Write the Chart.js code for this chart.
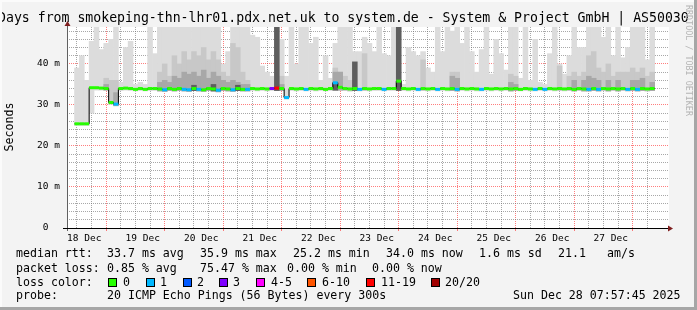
<!DOCTYPE html>
<html lang="en">
<head>
<meta charset="UTF-8">
<title>Smokeping - 10 Days</title>
<script src="https://cdn.jsdelivr.net/npm/chart.js"></script>
<style>
  html, body { margin: 0; padding: 0; background: #f3f3f3; }
  canvas { display: block; }
</style>
</head>
<body>
<canvas id="smoke" width="697" height="310"></canvas>
<script>
// 10 days, starting Dec 18 08:00, in 2 hour buckets (120 of them)
const bucketHours = 2;
const dayLabels = ['18 Dec', '19 Dec', '20 Dec', '21 Dec', '22 Dec', '23 Dec', '24 Dec', '25 Dec', '26 Dec', '27 Dec'];

// median rtt in ms per bucket
const median = [
  25.4, 25.4, 25.4, 34.2, 34.2, 34.1, 34.0, 30.6, 30.2, 34.0,
  34.1, 34.0, 33.8, 34.0, 33.8, 34.0, 34.0, 33.9, 33.7, 34.0,
  33.8, 34.0, 33.8, 33.7, 34.0, 33.8, 33.7, 34.0, 33.9, 33.6,
  34.0, 33.9, 33.7, 34.0, 33.8, 33.8, 34.0, 33.9, 34.0, 33.9,
  34.0, 34.1, 34.0, 31.8, 34.0, 33.9, 34.0, 33.8, 34.0, 33.9,
  34.0, 33.8, 34.0, 35.4, 34.3, 34.0, 33.9, 34.0, 33.8, 34.0,
  33.9, 34.0, 34.0, 33.8, 34.0, 34.0, 35.8, 34.0, 33.9, 34.0,
  33.8, 34.0, 33.9, 34.0, 33.8, 34.0, 33.9, 34.0, 33.8, 34.0,
  33.9, 34.0, 33.9, 33.8, 34.0, 33.9, 34.0, 33.9, 34.0, 33.9,
  34.0, 33.8, 34.0, 33.9, 33.8, 34.0, 33.8, 34.0, 33.9, 34.0,
  33.9, 34.0, 33.8, 34.0, 33.9, 33.8, 34.0, 33.8, 34.0, 33.9,
  34.0, 33.9, 34.0, 33.8, 34.0, 33.8, 34.0, 33.9, 34.0, null
];

// loss class per bucket (index into lossColors)
const lossClass = [
  0, 0, 0, 0, 0, 0, 0, 0, 1, 0,
  0, 0, 0, 0, 0, 0, 0, 0, 1, 0,
  0, 0, 1, 1, 0, 1, 0, 0, 0, 1,
  0, 0, 1, 0, 0, 1, 0, 0, 0, 0,
  3, 6, 0, 1, 0, 0, 0, 1, 0, 0,
  0, 0, 0, 1, 0, 0, 0, 0, 1, 0,
  0, 0, 0, 1, 0, 0, 0, 0, 0, 0,
  1, 0, 0, 0, 1, 0, 0, 0, 1, 0,
  0, 0, 0, 1, 0, 0, 0, 0, 0, 0,
  0, 0, 0, 0, 1, 0, 1, 0, 0, 0,
  0, 0, 0, 0, 0, 1, 0, 1, 0, 0,
  0, 0, 0, 1, 0, 1, 0, 0, 0, 0
];

// smoke: bottom of the ping spread and the tops of the shaded layers
const smokeLo = [
  25.0, 25.0, 25.0, 28.0, 33.6, 33.6, 33.6, 30.2, 29.8, 33.5,
  33.6, 33.5, 33.4, 33.5, 33.4, 33.5, 33.5, 33.4, 33.3, 33.5,
  33.4, 33.5, 33.4, 33.3, 33.5, 33.4, 33.3, 33.5, 33.4, 33.2,
  33.5, 33.4, 33.3, 33.5, 33.4, 33.4, 33.5, 33.4, 33.5, 33.4,
  33.5, 33.5, 33.5, 31.4, 33.5, 33.4, 33.5, 33.4, 33.5, 33.4,
  33.5, 33.4, 33.5, 33.6, 33.6, 33.5, 33.4, 33.5, 33.4, 33.5,
  33.4, 33.5, 33.5, 33.4, 33.5, 33.5, 33.5, 33.5, 33.4, 33.5,
  33.4, 33.5, 33.4, 33.5, 33.4, 33.5, 33.4, 33.5, 33.4, 33.5,
  33.4, 33.5, 33.4, 33.4, 33.5, 33.4, 33.5, 33.4, 33.5, 33.4,
  33.5, 33.4, 33.5, 33.4, 33.4, 33.5, 33.4, 33.5, 33.4, 33.5,
  33.4, 33.5, 33.4, 33.5, 33.4, 33.4, 33.5, 33.4, 33.5, 33.4,
  33.5, 33.4, 33.5, 33.4, 33.5, 33.4, 33.5, 33.4, 33.5, null
];
const smokeHi = [
  39, 42, 36, 45.5, 49, 43.5, 45, 46, 49, 35.5,
  44, 45.5, 35, 35.5, 35, 49, 42.5, 49, 49, 49,
  49, 49, 49, 49, 49, 49, 49, 49, 49, 49,
  40, 43, 49, 49, 49, 49, 47, 46.5, 39.5, 38,
  37, 49, 46, 37, 49, 40, 49, 49, 45, 46.5,
  36, 42, 36.5, 45, 49, 49, 49, 43, 43, 46.5,
  45, 43, 49, 42.5, 42, 49, 49, 35, 44, 43,
  42, 43, 39, 38, 49, 43, 49, 48, 49, 45,
  49, 43, 38, 43.5, 49, 37.5, 46, 42.5, 38.5, 49,
  49, 36.5, 49, 36, 46, 35.5, 35, 42.5, 49, 40,
  37.5, 42, 49, 44, 44, 49, 49, 49, 46.5, 49,
  42, 49, 41.5, 44, 49, 49, 49, 41, 49, null
];
const smokeMid = [
  null, null, null, null, null, null, 36.5, 36, 36, null,
  null, null, null, null, null, null, null, 38, 40, 37,
  42, 40, 43, 41, 43, 42, 44, 41, 43, 41,
  38, 37, 45, 44, 38, 36, null, null, null, null,
  null, null, 37, null, null, null, null, null, null, null,
  null, null, null, 39, 38, 37, 36, null, null, 42.5,
  null, null, null, null, null, null, null, null, null, null,
  null, 41, null, null, null, null, null, 38, 38, null,
  null, null, null, null, null, null, null, null, null, 37.5,
  37, null, null, null, null, null, null, null, null, 39.5,
  null, 37, 38, 37, 38, 42, 43, 39, 38, 40,
  37, 38, 38, 38, 39, 38, 39, 37, 38, null
];
const smokeDark = [
  null, null, null, null, null, null, 35, null, 33, null,
  null, null, null, null, null, null, null, 35.5, 36, 35.5,
  37, 36.5, 38, 37.5, 38, 37, 38.5, 36.5, 38, 37,
  36, 35.5, 36, 35.5, 35, 35, null, null, null, null,
  null, null, 35, null, null, null, null, null, null, null,
  null, null, null, 38, 38, null, null, null, null, null,
  null, null, null, null, null, null, null, null, null, null,
  null, null, null, null, null, null, null, 37, 36.5, null,
  null, null, null, null, null, null, null, null, null, 35.5,
  35, null, null, null, null, null, null, null, null, null,
  null, null, 36, null, 36, 37, 36.5, 36, null, 36,
  null, 36, null, null, 36, 36, 36.5, null, 35.5, null
];
const smokeCore = [
  null, null, null, null, null, null, null, null, null, null,
  null, null, null, null, null, null, null, null, null, null,
  null, null, null, null, 34.8, null, null, null, 35, null,
  null, null, null, 34.8, null, null, null, null, null, null,
  null, 49, null, null, null, null, null, null, null, null,
  null, null, null, 35.5, null, null, null, 40.5, null, null,
  null, null, null, null, null, null, 49, null, null, null,
  null, null, null, null, null, null, null, null, null, null,
  null, null, null, null, null, null, null, null, null, null,
  null, null, null, null, null, null, null, null, null, null,
  null, null, null, null, null, null, null, null, null, null,
  null, null, null, null, null, null, null, null, null, null
];

const lossLabels = ['0', '1', '2', '3', '4-5', '6-10', '11-19', '20/20'];
const lossColors = ['#26ff00', '#00b8ff', '#0059ff', '#7e00ff', '#ff00ff', '#ff5500', '#ff0000', '#a10000'];

const statRows = [
  [[16, 'median rtt:'], [107, '33.7 ms avg'], [200, '35.9 ms max'], [293, '25.2 ms min'], [386, '34.0 ms now'], [479, '1.6 ms sd'], [558, '21.1'], [607, 'am/s']],
  [[16, 'packet loss:'], [107, '0.85 % avg'], [200, '75.47 % max'], [287, '0.00 % min'], [372, '0.00 % now']],
  [[16, 'loss color:']],
  [[16, 'probe:'], [107, '20 ICMP Echo Pings (56 Bytes) every 300s'], [513, 'Sun Dec 28 07:57:45 2025']]
];
const title = '10 Days from smokeping-thn-lhr01.pdx.net.uk to system.de - System & Project GmbH | AS50030';

const mono = 'DejaVu Sans Mono';
const minorGrid = 'rgba(110,110,110,0.6)';
const majorGrid = 'rgba(255,40,40,0.6)';
const clear = 'rgba(0,0,0,0)';

// build chart data
function smokeBars(tops) {
  const out = [];
  tops.forEach((t, i) => {
    if (t != null && smokeLo[i] != null) out.push({ x: i * bucketHours + bucketHours / 2, y: [smokeLo[i], t] });
  });
  return out;
}

const medianStep = [];
const medianPieces = [];
let lastIdx = 0;
median.forEach((v, i) => {
  if (v == null) return;
  medianStep.push({ x: i * bucketHours, y: v });
  medianPieces.push({ x: i * bucketHours, y: v }, { x: (i + 1) * bucketHours, y: v }, { x: (i + 1) * bucketHours, y: null });
  lastIdx = i;
});
medianStep.push({ x: (lastIdx + 1) * bucketHours, y: median[lastIdx] });

const gridHours = [];
for (let h = 4; h < 240; h += 6) gridHours.push(h);
const yGrid = [];
for (let v = 0; v < 49; v += 2) yGrid.push(v);

const isMidnight = h => (h - 16) % 24 === 0;

const decor = {
  id: 'decor',
  beforeDraw(chart) {
    const { ctx, chartArea: a } = chart;
    ctx.save();
    ctx.fillStyle = '#f3f3f3';
    ctx.fillRect(0, 0, chart.width, chart.height);
    ctx.fillStyle = '#ffffff';
    ctx.fillRect(a.left, a.top, a.right - a.left, a.bottom - a.top);
    ctx.restore();
  },
  afterDraw(chart) {
    const { ctx, chartArea: a } = chart;
    ctx.save();
    // axes
    ctx.lineWidth = 1;
    ctx.strokeStyle = '#606060';
    ctx.beginPath();
    ctx.moveTo(a.left + 0.5, a.bottom + 3);
    ctx.lineTo(a.left + 0.5, a.top - 5);
    ctx.stroke();
    ctx.strokeStyle = '#000';
    ctx.beginPath();
    ctx.moveTo(a.left - 4, a.bottom + 0.5);
    ctx.lineTo(a.right + 1, a.bottom + 0.5);
    ctx.stroke();
    ctx.fillStyle = '#7f1f1f';
    ctx.beginPath();
    ctx.moveTo(a.left - 2.5, a.top - 1);
    ctx.lineTo(a.left + 3.5, a.top - 1);
    ctx.lineTo(a.left + 0.5, a.top - 6);
    ctx.closePath();
    ctx.fill();
    ctx.beginPath();
    ctx.moveTo(a.right - 1, a.bottom - 2.5);
    ctx.lineTo(a.right - 1, a.bottom + 3.5);
    ctx.lineTo(a.right + 4, a.bottom + 0.5);
    ctx.closePath();
    ctx.fill();

    // title
    ctx.fillStyle = '#000';
    ctx.font = '13.2px "' + mono + '"';
    ctx.textBaseline = 'middle';
    ctx.textAlign = 'left';
    const cw = ctx.measureText('0').width;
    ctx.fillText(title, -2 - 3 * cw, 19);

    // y axis title
    ctx.font = '11.6px "' + mono + '"';
    ctx.save();
    ctx.translate(10, 127);
    ctx.rotate(-Math.PI / 2);
    ctx.textAlign = 'center';
    ctx.fillText('Seconds', 0, 0);
    ctx.restore();

    // legend text
    const rowY = [254, 268.5, 282.5, 296];
    statRows.forEach((row, r) => {
      row.forEach(([x, t]) => ctx.fillText(t, x, rowY[r]));
    });
    const swX = [108, 146, 183, 219, 256, 307, 366, 431];
    const lbX = [123, 160, 197, 233, 271, 322, 381, 445];
    lossLabels.forEach((l, i) => {
      ctx.fillStyle = lossColors[i];
      ctx.fillRect(swX[i], 278, 9, 9);
      ctx.strokeStyle = '#000';
      ctx.strokeRect(swX[i] + 0.5, 278.5, 8, 8);
      ctx.fillStyle = '#000';
      ctx.fillText(l, lbX[i], rowY[2]);
    });

    // watermark
    ctx.fillStyle = '#b4b4b4';
    ctx.font = '8.4px "' + mono + '"';
    ctx.save();
    ctx.translate(688, 5);
    ctx.rotate(Math.PI / 2);
    ctx.textAlign = 'left';
    ctx.fillText('RRDTOOL / TOBI OETIKER', 0, 0);
    ctx.restore();

    // frame
    ctx.fillStyle = '#fbfbfb';
    ctx.fillRect(0, 0, chart.width, 2);
    ctx.fillRect(0, 0, 2, chart.height);
    ctx.fillStyle = '#a6a6a6';
    ctx.fillRect(chart.width - 3, 0, 3, chart.height);
    ctx.fillRect(0, chart.height - 3, chart.width, 3);
    ctx.restore();
  }
};

const barBase = { type: 'bar', grouped: false, barPercentage: 1, categoryPercentage: 1, borderWidth: 0 };

new Chart(document.getElementById('smoke'), {
  data: {
    datasets: [
      {
        type: 'line', data: medianPieces, order: 0, borderWidth: 3, pointRadius: 0, spanGaps: false,
        borderColor: lossColors[0],
        segment: { borderColor: c => lossColors[lossClass[Math.round(c.p0.parsed.x / bucketHours)]] }
      },
      { type: 'line', data: medianStep, order: 1, borderWidth: 1, borderColor: '#000', pointRadius: 0, stepped: true },
      { ...barBase, data: smokeBars(smokeCore), order: 2, backgroundColor: '#5e5e5e' },
      { ...barBase, data: smokeBars(smokeDark), order: 3, backgroundColor: '#a8a8a8' },
      { ...barBase, data: smokeBars(smokeMid), order: 4, backgroundColor: '#c8c8c8' },
      { ...barBase, data: smokeBars(smokeHi), order: 5, backgroundColor: '#dcdcdc' }
    ]
  },
  options: {
    responsive: false,
    animation: false,
    events: [],
    layout: { padding: { top: 27, right: 28, left: 0, bottom: 0 } },
    plugins: { legend: { display: false }, tooltip: { enabled: false } },
    scales: {
      x: {
        type: 'linear', min: 0, max: 240.8, z: 1,
        afterBuildTicks: s => { s.ticks = gridHours.map(v => ({ value: v })); },
        afterFit: s => { s.height = 82; },
        grid: {
          color: c => !c.tick ? clear : (isMidnight(c.tick.value) ? majorGrid : minorGrid),
          tickColor: c => c.tick && isMidnight(c.tick.value) ? majorGrid : clear,
          tickLength: 3
        },
        border: { display: false, dash: [1, 1] },
        ticks: {
          autoSkip: false, maxRotation: 0, padding: 2, color: '#000',
          font: { family: mono, size: 9.5 },
          callback: v => (v - 4) % 24 === 0 ? dayLabels[(v - 4) / 24] : ''
        }
      },
      y: {
        min: 0, max: 49, z: 1,
        afterBuildTicks: s => { s.ticks = yGrid.map(v => ({ value: v })); },
        afterFit: s => { s.width = 67; },
        grid: {
          color: c => !c.tick || c.tick.value === 0 ? clear : (c.tick.value % 10 === 0 ? majorGrid : minorGrid),
          drawTicks: false
        },
        border: { display: false, dash: [1, 1] },
        ticks: {
          autoSkip: false, padding: 7, color: '#000',
          font: { family: mono, size: 9.5 },
          callback: v => v % 10 === 0 ? (v === 0 ? '0  ' : v + ' m') : ''
        }
      }
    }
  },
  plugins: [decor]
});
</script>
</body>
</html>
